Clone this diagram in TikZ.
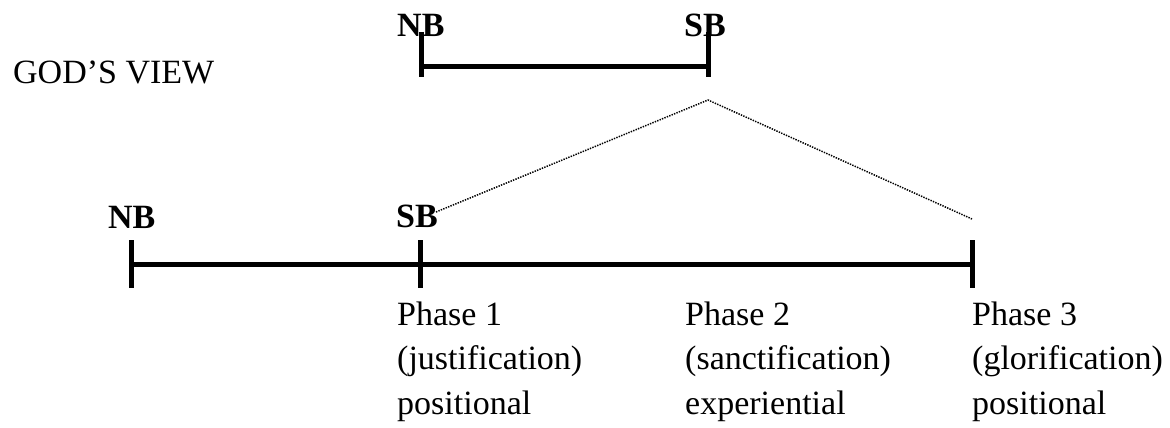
\documentclass[tikz,border=0pt]{standalone}
\usepackage{fontspec}
\setmainfont{Liberation Serif}
\begin{document}
\begin{tikzpicture}[x=1pt,y=-1pt,
  barline/.style={line width=5pt},
  tickline/.style={line width=5pt},
  lbl/.style={anchor=base west,inner sep=0pt,font=\fontsize{34}{45}\selectfont},
  blbl/.style={anchor=base west,inner sep=0pt,font=\fontsize{34}{45}\selectfont\bfseries},
  dots/.style={line width=1.5pt,dash pattern=on 1.4pt off 1.2pt}]
\useasboundingbox (0,0) rectangle (1170,428);
% title
\node[lbl] (gv) at (13,84) {GOD’S VIEW};
% top (God's view) bar
\coordinate (tNBt) at (421,32); \coordinate (tNBb) at (421,77);
\coordinate (tSBt) at (708,32); \coordinate (tSBb) at (708,77);
\coordinate (tNB) at (421,67); \coordinate (tSB) at (708,67);
\draw[barline] (tNB) -- (tSB);
\draw[tickline] (tNBt) -- (tNBb);
\draw[tickline] (tSBt) -- (tSBb);
\node[blbl] (nbTop) at (397,37) {NB};
\node[blbl] (sbTop) at (684,37) {SB};
% bottom bar
\coordinate (bNBt) at (131,240); \coordinate (bNBb) at (131,288);
\coordinate (bSBt) at (420,240); \coordinate (bSBb) at (420,288);
\coordinate (bENt) at (972,240); \coordinate (bENb) at (972,288);
\coordinate (bNB) at (131,264); \coordinate (bEN) at (972,264);
\draw[barline] (bNB) -- (bEN);
\draw[tickline] (bNBt) -- (bNBb);
\draw[tickline] (bSBt) -- (bSBb);
\draw[tickline] (bENt) -- (bENb);
\node[blbl] (nbBot) at (108,228) {NB};
\node[blbl] (sbBot) at (396,227) {SB};
% dotted expansion lines
\coordinate (dL) at (436,212);
\coordinate (apex) at (708,100);
\coordinate (dR) at (972,219);
\draw[dots] (dL) -- (apex) -- (dR);
% phase texts
\node[lbl] (p1a) at (397,325) {Phase 1};
\node[lbl] (p1b) at (397,369) {(justification)};
\node[lbl] (p1c) at (397,414) {positional};
\node[lbl] (p2a) at (685,325) {Phase 2};
\node[lbl] (p2b) at (685,369) {(sanctification)};
\node[lbl] (p2c) at (685,414) {experiential};
\node[lbl] (p3a) at (972,325) {Phase 3};
\node[lbl] (p3b) at (972,369) {(glorification)};
\node[lbl] (p3c) at (972,414) {positional};
\end{tikzpicture}
\end{document}
